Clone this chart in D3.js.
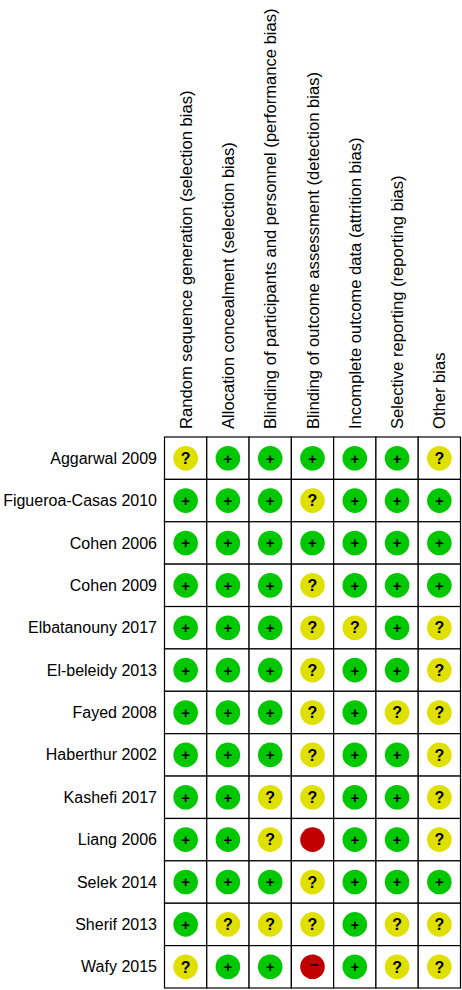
<!DOCTYPE html><html><head><meta charset="utf-8"><script src="https://cdn.jsdelivr.net/npm/d3@7"></script>
<style>body{margin:0;background:#fff}</style></head><body><svg id="c" width="462" height="990"></svg>
<script>
const studies=["Aggarwal 2009","Figueroa-Casas 2010","Cohen 2006","Cohen 2009","Elbatanouny 2017","El-beleidy 2013","Fayed 2008","Haberthur 2002","Kashefi 2017","Liang 2006","Selek 2014","Sherif 2013","Wafy 2015"];
const domains=["Random sequence generation (selection bias)","Allocation concealment (selection bias)","Blinding of participants and personnel (performance bias)","Blinding of outcome assessment (detection bias)","Incomplete outcome data (attrition bias)","Selective reporting (reporting bias)","Other bias"];
const ratings=[
"?+++++?","+++?+++","+++++++","+++?+++","+++??+?","+++?++?","+++?+??","+++?++?","++??++?","++?x++?","+++?+++","+???+??","?++-+??"];
const svg=d3.select("#c");
const x=d3.scaleBand().domain(domains).range([164.5,460.5]);
const y=d3.scaleBand().domain(studies).range([437,988]);
const font="Arial, 'Liberation Sans', sans-serif";
svg.selectAll("text.s").data(studies).join("text").attr("x",157).attr("y",d=>y(d)+y.bandwidth()/2).attr("dy","0.35em")
 .attr("text-anchor","end").attr("font-family",font).attr("font-size",16).text(d=>d);
svg.selectAll("text.d").data(domains).join("text").attr("transform",d=>`translate(${x(d)+x.bandwidth()/2+6},429) rotate(-90)`)
 .attr("font-family",font).attr("font-size",16.6).text(d=>d);
const cells=[];ratings.forEach((r,i)=>[...r].forEach((c,j)=>cells.push({s:studies[i],d:domains[j],c})));
svg.selectAll("rect").data(cells).join("rect").attr("x",d=>x(d.d)).attr("y",d=>y(d.s)).attr("width",x.bandwidth()).attr("height",y.bandwidth())
 .attr("fill","#fff").attr("stroke","#000").attr("stroke-width",1.2);
const col={"+":"#00c800","?":"#e0e000","-":"#c00000","x":"#c00000"};
svg.selectAll("circle").data(cells).join("circle").attr("cx",d=>x(d.d)+x.bandwidth()/2).attr("cy",d=>y(d.s)+y.bandwidth()/2).attr("r",12.3).attr("fill",d=>col[d.c]);
svg.selectAll("text.m").data(cells.filter(d=>d.c!="x")).join("text").attr("x",d=>x(d.d)+x.bandwidth()/2+(d.c=="-"?2:0)).attr("y",d=>y(d.s)+y.bandwidth()/2+(d.c=="-"?-2:0)).attr("dy","0.36em")
 .attr("text-anchor","middle").attr("font-family",font).attr("font-weight","bold").attr("font-size",d=>d.c=="?"?16:15).attr("fill","#000")
 .text(d=>d.c=="-"?"−":d.c);
</script></body></html>
